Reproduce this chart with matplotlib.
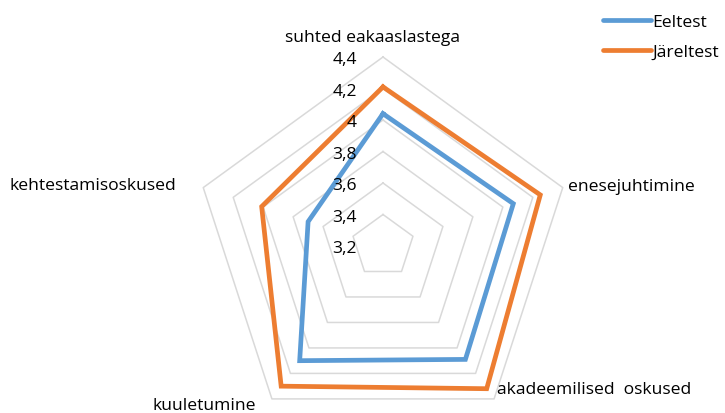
import matplotlib
matplotlib.use("Agg")
import matplotlib.pyplot as plt
import numpy as np

CATEGORIES = ["suhted eakaaslastega", "enesejuhtimine", "akadeemilised  oskused",
              "kuuletumine", "kehtestamisoskused"]
EELTEST = [4.04, 4.07, 4.09, 4.10, 3.70]
JARELTEST = [4.21, 4.25, 4.32, 4.30, 4.01]
SERIES = ["Eeltest", "Järeltest"]
TICKS = [3.2, 3.4, 3.6, 3.8, 4.0, 4.2, 4.4]

COLORS = ["#5B9BD5", "#ED7D31"]
GRID = "#D9D9D9"
FONT = "Open Sans"
FS = 12.6

W, H = 725, 414
CX, CY, R = 383, 247, 189  # pixel centre and radius of the plot area


def closed(values):
    return list(values) + [values[0]]


def main():
    plt.rcParams["font.family"] = [FONT, "DejaVu Sans"]
    fig = plt.figure(figsize=(W / 100, H / 100), dpi=100)
    ax = fig.add_axes([(CX - R) / W, (H - CY - R) / H, 2 * R / W, 2 * R / H],
                      projection="polar")
    ax.set_theta_offset(np.pi / 2)
    ax.set_theta_direction(-1)
    ax.set_ylim(TICKS[0], TICKS[-1])
    ax.axis("off")

    n = len(CATEGORIES)
    theta = np.arange(n) * 2 * np.pi / n
    tclosed = closed(theta)

    # pentagon gridlines
    for t in TICKS[1:]:
        ax.plot(tclosed, [t] * (n + 1), color=GRID, lw=1.1, zorder=1, clip_on=False)

    for name, vals, col in zip(SERIES, [EELTEST, JARELTEST], COLORS):
        ax.plot(tclosed, closed(vals), color=col, lw=3.4, label=name,
                solid_joinstyle="miter", zorder=3, clip_on=False)

    # value labels along the top axis
    for t in TICKS:
        ax.annotate(f"{t:g}".replace(".", ","), xy=(0, t), xytext=(-26, -2),
                    textcoords="offset pixels", ha="right", va="center",
                    fontsize=FS, color="#000000", annotation_clip=False)

    # category labels
    offsets = [((-10, 20), "center", "center"),
               ((5, 2), "left", "center"),
               ((3, 10), "left", "center"),
               ((-16, -6), "right", "center"),
               ((-27, 3), "right", "center")]
    for th, label, (off, ha, va) in zip(theta, CATEGORIES, offsets):
        ax.annotate(label, xy=(th, TICKS[-1]), xytext=off, textcoords="offset pixels",
                    ha=ha, va=va, fontsize=FS, color="#000000", annotation_clip=False)

    leg = fig.legend(loc="upper right", bbox_to_anchor=(726 / W, 1 - 8 / H),
                     frameon=False, fontsize=FS, handlelength=2.7, handletextpad=0.1,
                     labelspacing=0.75, borderaxespad=0)
    for line in leg.get_lines():
        line.set_linewidth(3.4)
        line.set_solid_capstyle("round")

    fig.savefig("out.png", dpi=100)
    plt.close(fig)


if __name__ == "__main__":
    main()
